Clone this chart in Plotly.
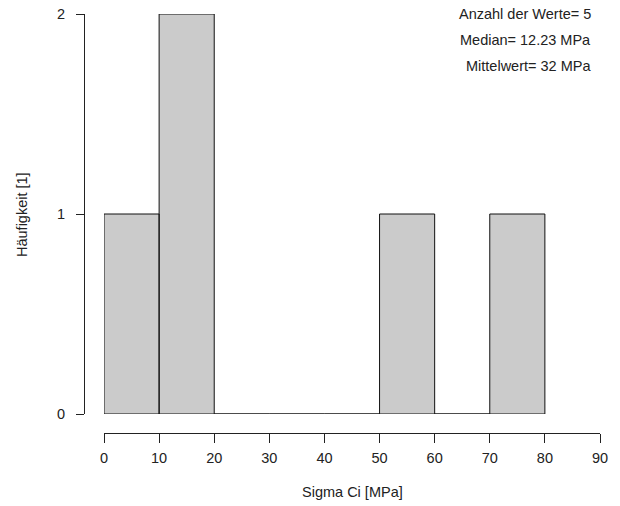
import plotly.graph_objects as go

# ---- data ----
bin_edges = [0, 10, 20, 30, 40, 50, 60, 70, 80]
counts = [1, 2, 0, 0, 0, 1, 0, 1]
x_ticks = [0, 10, 20, 30, 40, 50, 60, 70, 80, 90]
y_ticks = [0, 1, 2]
info_lines = ["Anzahl der Werte= 5", "Median= 12.23 MPa", "Mittelwert= 32 MPa"]
x_title = "Sigma Ci [MPa]"
y_title = "Häufigkeit [1]"

W, H = 620, 506
# target page pixels: plot x 84..600, y 14..433
ML, MR, MT = 84, 20, 14
MB = H - 433
pw = W - ML - MR
ph = H - MT - MB

FONT = "Liberation Sans, Arial, sans-serif"
FS = 14.5
TXT = "#222222"

# build histogram polygons
xs, ys = [], []
for i, c in enumerate(counts):
    x0, x1 = bin_edges[i], bin_edges[i + 1]
    xs += [x0, x0, x1, x1, x0, None]
    ys += [0, c, c, 0, 0, None]

fig = go.Figure()
fig.add_trace(go.Scatter(
    x=xs, y=ys, mode="lines", fill="toself", fillcolor="#CBCBCB",
    line=dict(color="#111111", width=1), hoverinfo="skip", showlegend=False,
))

fig.update_layout(
    template="none",
    width=W, height=H,
    margin=dict(l=ML, r=MR, t=MT, b=MB, pad=0, autoexpand=False),
    paper_bgcolor="white", plot_bgcolor="white",
    font=dict(family=FONT, size=FS, color=TXT),
    xaxis=dict(
        domain=[20 / pw, 1], range=[0, 90], anchor="free", position=0,
        tickmode="array", tickvals=x_ticks, ticktext=[str(t) for t in x_ticks],
        ticks="outside", ticklen=9, tickwidth=1, tickcolor="#222222",
        ticklabelstandoff=3, ticklabeloverflow="allow",
        showline=True, linecolor="#222222", linewidth=1, automargin=False,
        showgrid=False, zeroline=False, fixedrange=True,
        tickfont=dict(family=FONT, size=FS, color=TXT),
    ),
    yaxis=dict(
        domain=[19 / ph, 1], range=[0, 2], anchor="free", position=0,
        tickmode="array", tickvals=y_ticks,
        ticktext=[str(t) + "\u00a0\u00a0" for t in y_ticks],
        ticks="outside", ticklen=8, tickwidth=1, tickcolor="#222222",
        ticklabeloverflow="allow",
        showline=True, linecolor="#222222", linewidth=1, automargin=False,
        showgrid=False, zeroline=False, fixedrange=True,
        tickfont=dict(family=FONT, size=FS, color=TXT),
    ),
    showlegend=False,
)

def px_x(p):
    return (p - ML) / pw

def px_y(p):
    return (H - MB - p) / ph

annots = [
    dict(text=x_title, x=px_x(352), y=px_y(492), xanchor="center", yanchor="middle"),
    dict(text=y_title, x=px_x(22), y=px_y(215), xanchor="center", yanchor="middle", textangle=-90),
]
for i, t in enumerate(info_lines):
    annots.append(dict(text=t, x=px_x(591), y=px_y(14 + 26 * i), xanchor="right", yanchor="middle"))
for a in annots:
    a.update(xref="paper", yref="paper", showarrow=False, borderpad=0, borderwidth=0,
             font=dict(family=FONT, size=FS, color=TXT))
fig.update_layout(annotations=annots)

# remove the browser's default 8px body margin so the figure fills the window
fig.write_html(
    "out.html",
    config={"displayModeBar": False, "staticPlot": True},
    post_script="document.body.style.margin='0';",
)
